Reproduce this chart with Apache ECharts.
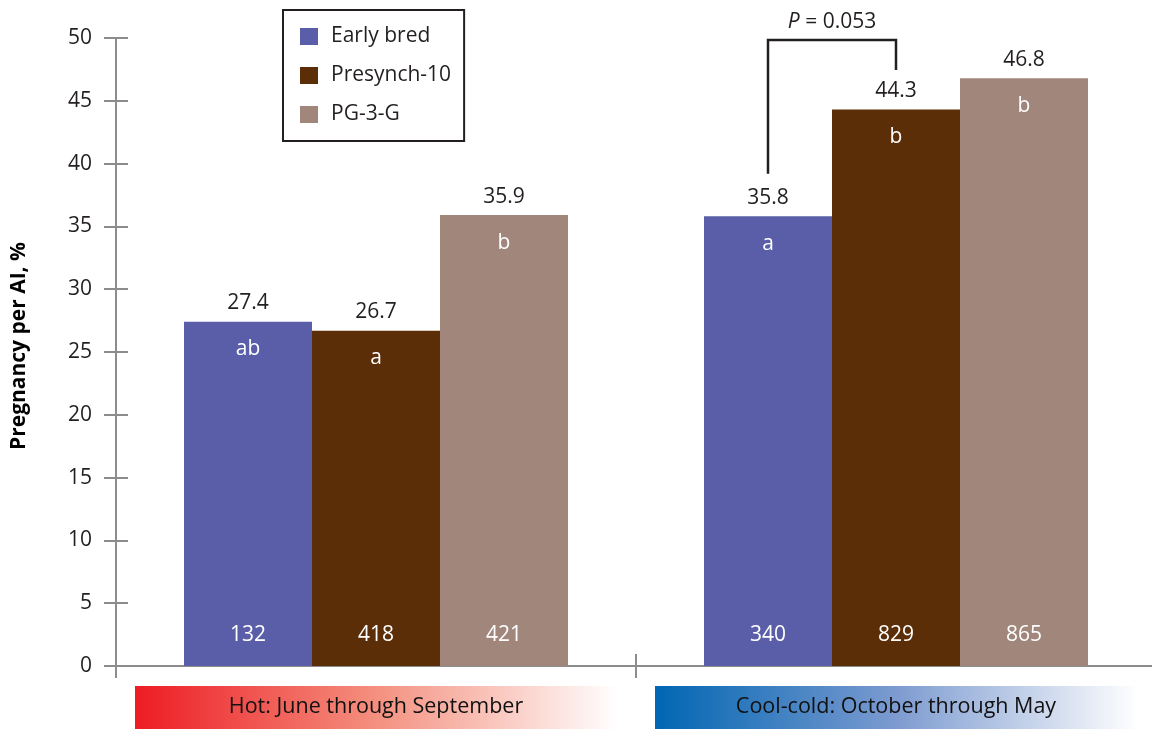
<!DOCTYPE html>
<html><head><meta charset="utf-8">
<script src="https://cdn.jsdelivr.net/npm/echarts@6/dist/echarts.min.js"></script>
<style>html,body{margin:0;padding:0;background:#fff}#c{width:1152px;height:729px}</style>
</head><body><div id="c"></div>
<script>
// ---- data ----
const categories = ['Hot: June through September', 'Cool-cold: October through May'];
const seriesNames = ['Early bred', 'Presynch-10', 'PG-3-G'];
const earlyBred = [27.4, 35.8];
const presynch = [26.7, 44.3];
const pg3g = [35.9, 46.8];
const earlyLetters = ['ab', 'a'];
const presynchLetters = ['a', 'b'];
const pgLetters = ['b', 'b'];
const earlyN = [132, 340];
const presynchN = [418, 829];
const pgN = [421, 865];
const yMin = 0, yMax = 50, yStep = 5;
const yAxisTitle = 'Pregnancy per AI, %';
const pValueText = '0.053';

// ---- styles ----
const FONT = 'Open Sans';
const FS = 21;
const colors = ['#5a5ea8', '#5c2e07', '#a0867b'];
const AXIS = '#8c8c8c';
const INK = '#231f20';

const values = [earlyBred, presynch, pg3g];
const letters = [earlyLetters, presynchLetters, pgLetters];
const counts = [earlyN, presynchN, pgN];

const chart = echarts.init(document.getElementById('c'), null, {renderer: 'canvas'});

const grid = {left: 116, width: 1040, top: 38, bottom: 63, containLabel: false, outerBoundsMode: 'none'};
const xBase = {type: 'category', data: categories, boundaryGap: true, position: 'bottom'};

const series = [];
values.forEach((v, i) => {
  series.push({
    name: seriesNames[i], type: 'bar', xAxisIndex: 0, yAxisIndex: 0,
    data: v, barWidth: 128, barGap: '0%',
    itemStyle: {color: colors[i]},
    label: {show: true, position: 'top', distance: 8, color: INK, fontFamily: FONT, fontSize: FS,
      formatter: p => p.value.toFixed(1)}
  });
});
values.forEach((v, i) => {
  series.push({
    name: 'letters' + i, type: 'bar', xAxisIndex: 1, yAxisIndex: 0, silent: true,
    data: v, barWidth: 128, barGap: '0%',
    itemStyle: {color: 'rgba(0,0,0,0)'},
    label: {show: true, position: 'insideTop', distance: 17, color: '#fff', fontFamily: FONT, fontSize: FS,
      formatter: p => letters[i][p.dataIndex]}
  });
});
values.forEach((v, i) => {
  series.push({
    name: 'counts' + i, type: 'bar', xAxisIndex: 2, yAxisIndex: 0, silent: true,
    data: v, barWidth: 128, barGap: '0%',
    itemStyle: {color: 'rgba(0,0,0,0)'},
    label: {show: true, position: 'insideBottom', distance: 20, color: '#fff', fontFamily: FONT, fontSize: FS,
      formatter: p => String(counts[i][p.dataIndex])}
  });
});

chart.setOption({
  animation: false,
  backgroundColor: '#fff',
  textStyle: {fontFamily: FONT},
  legend: {
    data: seriesNames, orient: 'vertical', left: 283, top: 10,
    padding: [16, 13, 16, 17], itemWidth: 18, itemHeight: 17, itemGap: 18,
    borderColor: INK, borderWidth: 2, icon: 'rect',
    textStyle: {fontFamily: FONT, fontSize: FS, color: INK, lineHeight: 18, padding: [0, 0, 0, 8]}
  },
  grid: grid,
  xAxis: [
    Object.assign({}, xBase, {
      axisLine: {show: true, lineStyle: {color: AXIS, width: 2}},
      axisTick: {show: true, length: 12, inside: false, lineStyle: {color: AXIS, width: 2}},
      axisLabel: {show: false}
    }),
    Object.assign({}, xBase, {
      axisLine: {show: false},
      axisTick: {show: true, length: 12, inside: true, lineStyle: {color: AXIS, width: 2}},
      axisLabel: {show: false}
    }),
    Object.assign({}, xBase, {axisLine: {show: false}, axisTick: {show: false}, axisLabel: {show: false}})
  ],
  yAxis: [
    {
      type: 'value', min: yMin, max: yMax, interval: yStep,
      name: yAxisTitle, nameLocation: 'middle', nameGap: 86,
      nameTextStyle: {fontFamily: FONT, fontSize: 21, fontWeight: 'bold', color: '#000', padding: [0, 0, 0, 12]},
      axisLine: {show: true, lineStyle: {color: AXIS, width: 2}},
      axisTick: {show: true, length: 12, lineStyle: {color: AXIS, width: 2}},
      axisLabel: {margin: 24, fontFamily: FONT, fontSize: FS, color: INK},
      splitLine: {show: false}
    },
    {
      type: 'value', min: yMin, max: yMax, interval: yStep, position: 'left',
      axisLine: {show: false},
      axisTick: {show: true, inside: true, length: 12, lineStyle: {color: AXIS, width: 2}},
      axisLabel: {show: false}, splitLine: {show: false}
    }
  ],
  series: series
});

// ---- annotations computed from the library's layout ----
function barLayout(seriesIndex, dataIndex) {
  return chart.getModel().getSeriesByIndex(seriesIndex).getData().getItemLayout(dataIndex);
}
const yPx = v => chart.convertToPixel({yAxisIndex: 0}, v);
const graphics = [];

// category bands
const bandStyles = [
  [{offset: 0, color: '#ed1c24'}, {offset: 0.5, color: '#f4907f'}, {offset: 1, color: '#ffffff'}],
  [{offset: 0, color: '#0066b3'}, {offset: 0.5, color: '#7d9bd0'}, {offset: 1, color: '#ffffff'}]
];
const zeroY = yPx(0);
categories.forEach((c, i) => {
  const cx = chart.convertToPixel({xAxisIndex: 0}, c);
  graphics.push({
    type: 'rect', shape: {x: cx - 241, y: zeroY + 20, width: 483, height: 44},
    style: {fill: new echarts.graphic.LinearGradient(0, 0, 1, 0, bandStyles[i])}, silent: true
  });
  graphics.push({
    type: 'text', x: cx, y: zeroY + 41,
    style: {text: c, fontFamily: FONT, fontSize: 21.5, fill: '#111', align: 'center', verticalAlign: 'middle'},
    silent: true
  });
});

// bracket between Early bred and Presynch-10 in cool season
const lA = barLayout(0, 1), lB = barLayout(1, 1);
const xA = lA.x + lA.width / 2, xB = lB.x + lB.width / 2;
const yLowA = yPx(39.2), yTop = yPx(49.85), yLowB = yPx(47.45);
graphics.push({
  type: 'polyline', shape: {points: [[xA, yLowA], [xA, yTop], [xB, yTop], [xB, yLowB]]},
  style: {stroke: INK, lineWidth: 2.5, fill: null}, silent: true
});
graphics.push({
  type: 'text', x: (xA + xB) / 2, y: yTop - 18,
  style: {
    text: '{i|P} = ' + pValueText, align: 'center', verticalAlign: 'middle',
    fontFamily: FONT, fontSize: FS, fill: INK,
    rich: {i: {fontStyle: 'italic', fontFamily: FONT, fontSize: FS, fill: INK}}
  }, silent: true
});
chart.setOption({graphic: graphics});
</script>
</body></html>
